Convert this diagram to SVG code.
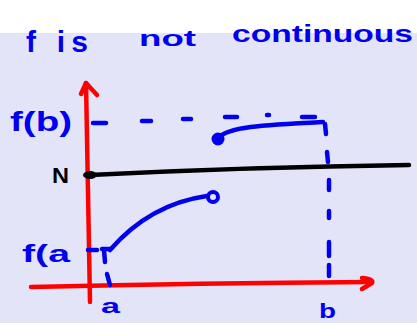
<svg xmlns="http://www.w3.org/2000/svg" width="417" height="323" viewBox="0 0 417 323">
<style>
.ink{fill:none;stroke-linecap:round;stroke-linejoin:round}
.blue{stroke:#0000f0;stroke-width:4.5}
.red{stroke:#ff0000;stroke-width:4.5}
.blk{stroke:#000;stroke-width:4.5}
.t{font-family:"Liberation Sans",Arial,sans-serif;font-weight:bold;fill:#0000f0}
</style>
<rect x="0" y="0" width="417" height="323" fill="#ffffff"/>
<rect x="0" y="33" width="417" height="290" fill="#e4e4f8"/>

<g id="title">
<text class="t" x="26" y="52" font-size="30" textLength="62" lengthAdjust="spacing">f is</text>
<text class="t" x="139" y="46" font-size="22" textLength="57" lengthAdjust="spacingAndGlyphs">not</text>
<text class="t" x="232" y="42" font-size="24" textLength="181" lengthAdjust="spacingAndGlyphs">continuous</text>
</g>

<g id="axes">
<path class="ink red" d="M90,302 L86,83"/>
<path class="ink red" d="M81,94 L86,83 L97,95"/>
<path class="ink red" d="M31,287 Q200,283 371,282"/>
<path class="ink red" d="M362,278 Q374,279 372,283 L362,289"/>
</g>

<g id="labels">
<text class="t" x="10" y="131" font-size="27" textLength="62" lengthAdjust="spacingAndGlyphs">f(b)</text>
<text x="52" y="183" font-size="22" font-family="Liberation Sans,Arial,sans-serif" font-weight="bold" fill="#000" textLength="17" lengthAdjust="spacingAndGlyphs">N</text>
<text class="t" x="22" y="262" font-size="24" textLength="48" lengthAdjust="spacingAndGlyphs">f(a</text>
<text class="t" x="101" y="313" font-size="20" textLength="19" lengthAdjust="spacingAndGlyphs">a</text>
<text class="t" x="319" y="318" font-size="21" textLength="17" lengthAdjust="spacingAndGlyphs">b</text>
</g>

<g id="N-line">
<path class="ink blk" d="M90,175 Q250,167 409,165"/>
<ellipse cx="90" cy="175" rx="7" ry="4" fill="#000"/>
</g>

<g id="connectors">
<g class="ink blue">
<path d="M93,123 L106,123"/>
<path d="M142,121 L151,121"/>
<path d="M183,119 L191,119"/>
<path d="M225,117 L237,117"/>
<path d="M267,115 L269,115"/>
<path d="M302,117 L315,117"/>
<path d="M325,124 L326,134"/>
<path d="M327,152 L328,162"/>
<path d="M329,180 L329,190"/>
<path d="M329,211 L329,218"/>
<path d="M329,242 L329,256"/>
<path d="M329,265 L329,276"/>
<path d="M88,250 L97,250"/>
<path d="M102,249 L110,249"/>
<path d="M104,250 L105,262"/>
<path d="M107,274 L110,285"/>
</g>
</g>

<g id="upper-branch">
<path class="ink blue" d="M218,138 C228,127 260,125 323,122"/>
<circle cx="218" cy="139" r="6.5" fill="#0000f0"/>
</g>

<g id="lower-branch">
<path class="ink blue" d="M110,250 Q150,204 207,196"/>
<circle cx="213" cy="197" r="5" fill="none" stroke="#0000f0" stroke-width="4"/>
</g>
</svg>
